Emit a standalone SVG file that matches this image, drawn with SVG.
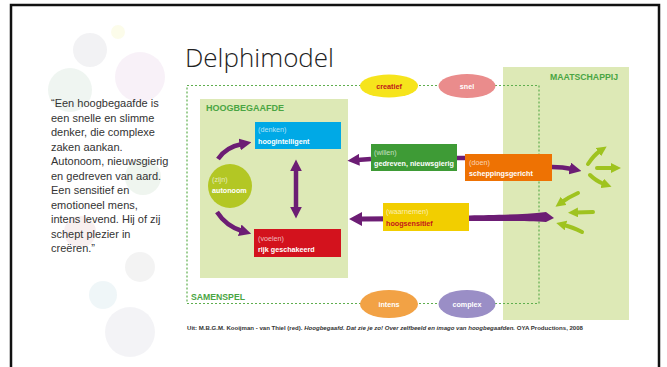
<svg xmlns="http://www.w3.org/2000/svg" width="667" height="367" viewBox="0 0 667 367">
<defs>
<style>
.lbl{font-family:"Liberation Sans","DejaVu Sans",sans-serif;font-size:7.2px;}
.sub{fill:#ffffff;fill-opacity:0.7;}
.main{fill:#ffffff;font-weight:bold;}
.hdr{font-family:"Liberation Sans","DejaVu Sans",sans-serif;font-size:8.5px;font-weight:bold;fill:#4aa543;}
.quote{font-family:"Liberation Sans","DejaVu Sans",sans-serif;font-size:11px;fill:#333333;}
.pur{fill:none;stroke:#6c1d74;stroke-width:4.5;}
.grn{fill:none;stroke:#9fc31f;stroke-width:4;stroke-linecap:round;}
.bub{fill-opacity:0.11;}
</style>
<marker id="ph" viewBox="0 0 10 10" refX="2" refY="5" markerWidth="12" markerHeight="12" markerUnits="userSpaceOnUse" orient="auto-start-reverse">
<path d="M0,0 L10,5 L0,10 z" fill="#6c1d74"/>
</marker>
<marker id="gh" viewBox="0 0 10 10" refX="2" refY="5" markerWidth="10" markerHeight="10" markerUnits="userSpaceOnUse" orient="auto">
<path d="M0,0 L10,5 L0,10 z" fill="#9fc31f"/>
</marker>
</defs>
<rect width="667" height="367" fill="#ffffff"/>
<g id="background">
<circle cx="90" cy="50" r="17" fill="#8a8a9a" class="bub"/>
<circle cx="118" cy="32" r="7" fill="#e8e040" class="bub"/>
<circle cx="70" cy="90" r="22" fill="#6aa080" class="bub"/>
<circle cx="140" cy="77" r="25" fill="#c080c0" class="bub"/>
<circle cx="143" cy="177" r="18" fill="#70a070" class="bub"/>
<circle cx="80" cy="232" r="16" fill="#c07070" class="bub"/>
<circle cx="140" cy="267" r="15" fill="#909090" class="bub"/>
<circle cx="103" cy="295" r="14" fill="#70b0c0" class="bub"/>
<circle cx="130" cy="332" r="25" fill="#9090b0" class="bub"/>
</g>
<path d="M11,367 L11,5 L659,5 L659,367" fill="none" stroke="#111111" stroke-width="2.5"/>
<text x="185" y="67" font-family="'Open Sans','Liberation Sans',sans-serif" font-weight="300" font-size="26" fill="#222222" textLength="149" lengthAdjust="spacingAndGlyphs">Delphimodel</text>
<g id="quote" class="quote">
<text x="51" y="107">“Een hoogbegaafde is</text>
<text x="51" y="121.5">een snelle en slimme</text>
<text x="51" y="136">denker, die complexe</text>
<text x="51" y="150.5">zaken aankan.</text>
<text x="51" y="165">Autonoom, nieuwsgierig</text>
<text x="51" y="179.5">en gedreven van aard.</text>
<text x="51" y="194">Een sensitief en</text>
<text x="51" y="208.5">emotioneel mens,</text>
<text x="51" y="223">intens levend. Hij of zij</text>
<text x="51" y="237.5">schept plezier in</text>
<text x="51" y="252">creëren.”</text>
</g>
<g id="maatschappij">
<rect x="503" y="67" width="126" height="253" fill="#dde9b6"/>
<text x="618" y="80" class="hdr" text-anchor="end" textLength="68" lengthAdjust="spacingAndGlyphs">MAATSCHAPPIJ</text>
</g>
<g id="samenspel">
<rect x="187" y="85.5" width="352" height="218" fill="none" stroke="#5fae4e" stroke-width="1.2" stroke-dasharray="2,2"/>
<text x="191" y="300" class="hdr" textLength="54" lengthAdjust="spacingAndGlyphs">SAMENSPEL</text>
</g>
<g id="hoogbegaafde">
<rect x="200" y="99" width="148" height="179" fill="#dde9b6"/>
<text x="206" y="111" class="hdr" textLength="78" lengthAdjust="spacingAndGlyphs">HOOGBEGAAFDE</text>
</g>
<g id="connectors">
<path class="pur" d="M218,159 Q226,147 242,144" marker-end="url(#ph)"/>
<path class="pur" d="M217,212 Q226,226 242,231" marker-end="url(#ph)"/>
<path class="pur" stroke-width="3.5" d="M296,169 L296,209" marker-start="url(#ph)" marker-end="url(#ph)"/>
<path class="pur" d="M371,159 L357,160" marker-end="url(#ph)"/>
<path class="pur" d="M457,158 L467,158"/>
<path class="pur" stroke-width="5" d="M552,167 Q563,167 572,169" marker-end="url(#ph)"/>
<path d="M554,218 L546,212 C520,215 490,215 470,215.5 L362,216.5 L362,212 L349,219 L362,226 L362,221.5 L470,221 C500,221 530,221 546,222 Z" fill="#6c1d74"/>
<path class="grn" d="M588,164 Q594,155 600,151" marker-end="url(#gh)"/>
<path class="grn" d="M597,168 L613,168" marker-end="url(#gh)"/>
<path class="grn" d="M590,175 Q596,181 604,184" marker-end="url(#gh)"/>
<path class="grn" d="M578,193 Q569,197 562,202" marker-end="url(#gh)"/>
<path class="grn" d="M593,212 L576,212.5" marker-end="url(#gh)"/>
<path class="grn" d="M582,232 Q572,227 564,225" marker-end="url(#gh)"/>
</g>
<g id="creatief">
<ellipse cx="389" cy="86" rx="29" ry="11.5" fill="#f6e41c"/>
<text x="389" y="88.5" class="lbl" text-anchor="middle" font-weight="bold" fill="#c0161b">creatief</text>
</g>
<g id="snel">
<ellipse cx="467" cy="86" rx="28.5" ry="12" fill="#ea8c8c"/>
<text x="467" y="88.5" class="lbl main" text-anchor="middle">snel</text>
</g>
<g id="intens">
<ellipse cx="389" cy="304" rx="29" ry="14" fill="#f2a245"/>
<text x="389" y="306.5" class="lbl main" text-anchor="middle">intens</text>
</g>
<g id="complex">
<ellipse cx="467" cy="304" rx="28.5" ry="14" fill="#9a8ec6"/>
<text x="467" y="306.5" class="lbl main" text-anchor="middle">complex</text>
</g>
<g id="denken">
<rect x="255" y="122" width="86" height="27" fill="#00a9e6"/>
<text x="258" y="132" class="lbl sub">(denken)</text>
<text x="258" y="144" class="lbl main">hoogintelligent</text>
</g>
<g id="zijn">
<circle cx="230" cy="186" r="22" fill="#b3c724"/>
<text x="212" y="182" class="lbl sub">(zijn)</text>
<text x="212" y="193" class="lbl main">autonoom</text>
</g>
<g id="voelen">
<rect x="254" y="229" width="87" height="28" fill="#d3121d"/>
<text x="258" y="240.5" class="lbl sub">(voelen)</text>
<text x="258" y="252" class="lbl main">rijk geschakeerd</text>
</g>
<g id="willen">
<rect x="371" y="144" width="86" height="27" fill="#3e9b36"/>
<text x="374" y="155" class="lbl sub">(willen)</text>
<text x="374" y="166" class="lbl main">gedreven, nieuwsgierig</text>
</g>
<g id="doen">
<rect x="465" y="154" width="87" height="27" fill="#ee7203"/>
<text x="469" y="165" class="lbl sub">(doen)</text>
<text x="469" y="176" class="lbl main">scheppingsgericht</text>
</g>
<g id="waarnemen">
<rect x="383" y="203" width="86" height="28" fill="#f2ce00"/>
<text x="386" y="214" class="lbl sub">(waarnemen)</text>
<text x="386" y="225.5" class="lbl" font-weight="bold" fill="#c4161c">hoogsensitief</text>
</g>
<text x="187" y="330" font-family="'Liberation Sans','DejaVu Sans',sans-serif" font-size="5.6" font-weight="bold" fill="#333333" textLength="396" lengthAdjust="spacingAndGlyphs">Uit: M.B.G.M. Kooijman - van Thiel (red). <tspan font-style="italic">Hoogbegaafd. Dat zie je zo! Over zelfbeeld en imago van hoogbegaafden.</tspan> OYA Productions, 2008</text>
</svg>
